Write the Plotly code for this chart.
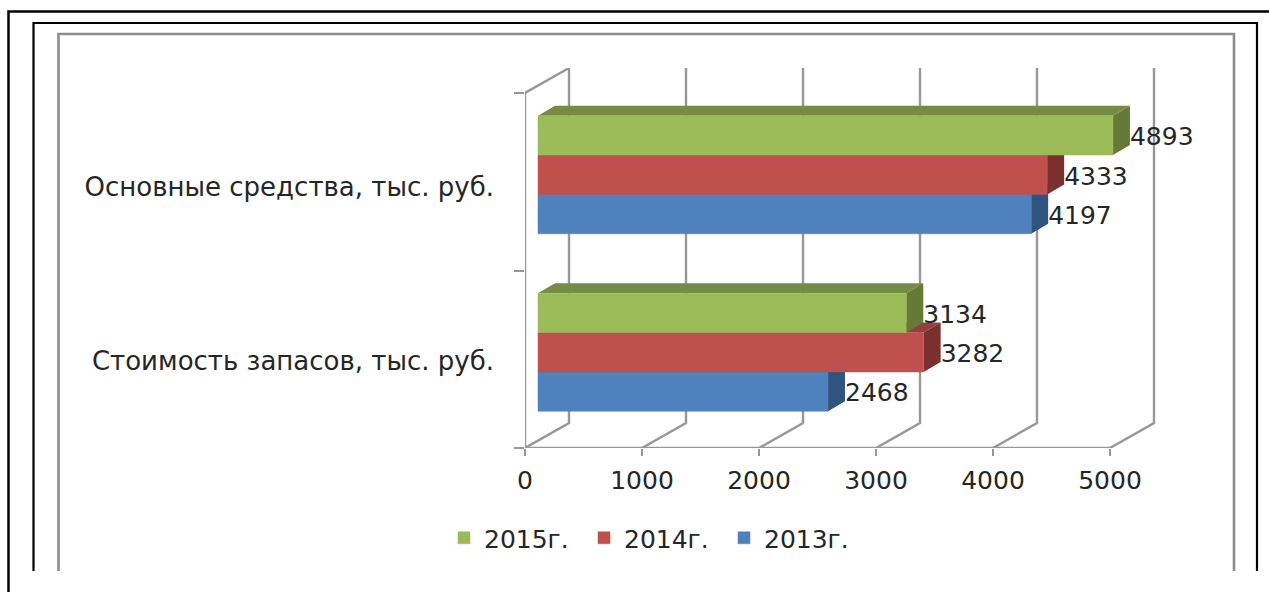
import plotly.graph_objects as go

categories = ["Стоимость запасов, тыс. руб.", "Основные средства, тыс. руб."]
years = ["2013г.", "2014г.", "2015г."]
values_2013 = [2468, 4197]
values_2014 = [3282, 4333]
values_2015 = [3134, 4893]
axis_ticks = [0, 1000, 2000, 3000, 4000, 5000]

front_colors = ["#4f81bd", "#c0504d", "#9bbb59"]
top_colors = ["#3a6090", "#96403d", "#768c45"]
side_colors = ["#2f5480", "#7b302e", "#667a37"]
GRID = "#979797"
TEXT = "#262626"
FONT = "DejaVu Sans"

W, H = 1269, 592
PX_X = 0.117             # px per value unit on the floor and walls
PX_BAR = 0.1175          # px per value unit on the bars
PX_Y = 177.5             # px per category
L, R, B, T = 525, 1170, 448, 68
WALL_DX, WALL_DY = 44 / PX_X, 25 / PX_Y
BAR_OX, BAR_OY = 13 / PX_X, 7.0 / PX_Y
FACE_DX, FACE_DY = 17 / PX_X, 10 / PX_Y
GROUP = 118 / PX_Y
BAR_H = GROUP / 3
SCALE = PX_BAR / PX_X

series = [values_2013, values_2014, values_2015]
fig = go.Figure()

# walls: gridlines run from the front floor, back along the floor, up the back wall
gx, gy = [], []
for v in axis_ticks:
    gx += [v, v + WALL_DX, v + WALL_DX, None]
    gy += [-0.5, -0.5 + WALL_DY, 1.5 + WALL_DY, None]
gx += [0, 0, WALL_DX, None, 0, axis_ticks[-1]]
gy += [-0.5, 1.5, 1.5 + WALL_DY, None, -0.5, -0.5]
fig.add_trace(go.Scatter(x=gx, y=gy, mode="lines", line=dict(color=GRID, width=2.4),
                         showlegend=False, hoverinfo="skip", cliponaxis=False))

# 3D top and side faces, back to front
for k, vals in enumerate(series):
    tx, ty, sx, sy = [], [], [], []
    for c, v in enumerate(vals):
        y0 = c + BAR_OY + (k - 1.5) * BAR_H
        y1 = y0 + BAR_H
        x0, xv = BAR_OX, v * SCALE + BAR_OX
        tx += [x0, xv, xv + FACE_DX, x0 + FACE_DX, x0, None]
        ty += [y1, y1, y1 + FACE_DY, y1 + FACE_DY, y1, None]
        sx += [xv, xv, xv + FACE_DX, xv + FACE_DX, xv, None]
        sy += [y0, y1, y1 + FACE_DY, y0 + FACE_DY, y0, None]
    for fx, fy, col in ((tx, ty, top_colors[k]), (sx, sy, side_colors[k])):
        fig.add_trace(go.Scatter(x=fx, y=fy, mode="lines", fill="toself", fillcolor=col,
                                 line=dict(width=0, color=col), showlegend=False,
                                 hoverinfo="skip", cliponaxis=False))

# front faces
for k, vals in enumerate(series):
    fig.add_trace(go.Bar(x=vals, y=[0, 1], orientation="h", name=years[k],
                         marker=dict(color=front_colors[k], line=dict(width=0.5, color=front_colors[k])),
                         xaxis="x2", yaxis="y2"))

# data labels
for k, vals in enumerate(series):
    fig.add_trace(go.Scatter(x=[v + 17 / PX_BAR for v in vals],
                             y=[c + (k - 1) * BAR_H - 3.5 / PX_Y for c in range(2)],
                             mode="text", text=[str(v) for v in vals], textposition="middle right",
                             textfont=dict(family=FONT, size=25, color=TEXT),
                             xaxis="x2", yaxis="y2", showlegend=False, hoverinfo="skip",
                             cliponaxis=False))


def frame(points, color, width):
    d = ""
    for i, (px, py) in enumerate(points):
        d += ("M" if i == 0 else "L") + f"{px / W:.5f},{1 - py / H:.5f} "
    return dict(type="path", path=d, xref="paper", yref="paper", layer="below",
                line=dict(color=color, width=width))


tick_font = dict(family=FONT, size=25, color=TEXT)
dom_x = [L / W, R / W]
dom_y = [1 - B / H, 1 - T / H]
fig.update_layout(
    width=W, height=H, margin=dict(l=0, r=0, t=0, b=0, autoexpand=False),
    paper_bgcolor="white", plot_bgcolor="rgba(0,0,0,0)",
    barmode="group", bargap=1 - GROUP, bargroupgap=0,
    showlegend=True,
    legend=dict(orientation="h", traceorder="reversed", x=444 / W, xanchor="left",
                y=1 - 538 / H, yanchor="middle", font=dict(family=FONT, size=25, color=TEXT),
                entrywidth=95, entrywidthmode="pixels", bgcolor="rgba(0,0,0,0)"),
    xaxis=dict(domain=dom_x, range=[0, (R - L) / PX_X], tickmode="array", tickvals=axis_ticks,
               ticktext=[str(v) for v in axis_ticks], ticks="outside", ticklen=7, tickwidth=2.4,
               tickcolor=GRID, tickfont=tick_font, showgrid=False, zeroline=False, showline=False,
               ticklabelstandoff=3),
    yaxis=dict(domain=dom_y, range=[-0.5, 1.5 + WALL_DY], tickmode="array",
               tickvals=[2 / PX_Y * -1, 1 - 5.5 / PX_Y], ticktext=categories, ticks="",
               ticklen=0, tickfont=dict(family=FONT, size=26, color=TEXT), ticklabelstandoff=30,
               showgrid=False, zeroline=False, showline=False,
               minor=dict(tickmode="array", tickvals=[-0.5, 0.5, 1.5], ticks="outside", ticklen=10,
                          tickwidth=2.4, tickcolor=GRID, showgrid=False)),
    xaxis2=dict(domain=dom_x, overlaying="x", visible=False,
                range=[-13 / PX_BAR, (R - L - 13) / PX_BAR]),
    yaxis2=dict(domain=dom_y, overlaying="y", visible=False,
                range=[-0.5 - BAR_OY, 1.5 + WALL_DY - BAR_OY]),
    shapes=[
        frame([(8.5, 592), (8.5, 11.5), (1269, 11.5)], "#000000", 2.5),
        frame([(33.5, 571), (33.5, 23), (1257, 23), (1257, 571)], "#000000", 2.2),
        frame([(58.5, 571), (58.5, 34), (1234, 34), (1234, 571)], "#8c8c8c", 2.6),
    ],
)

fig.write_html("out.html", config={"displayModeBar": False},
               post_script="document.body.style.margin='0';document.body.style.overflow='hidden';")
